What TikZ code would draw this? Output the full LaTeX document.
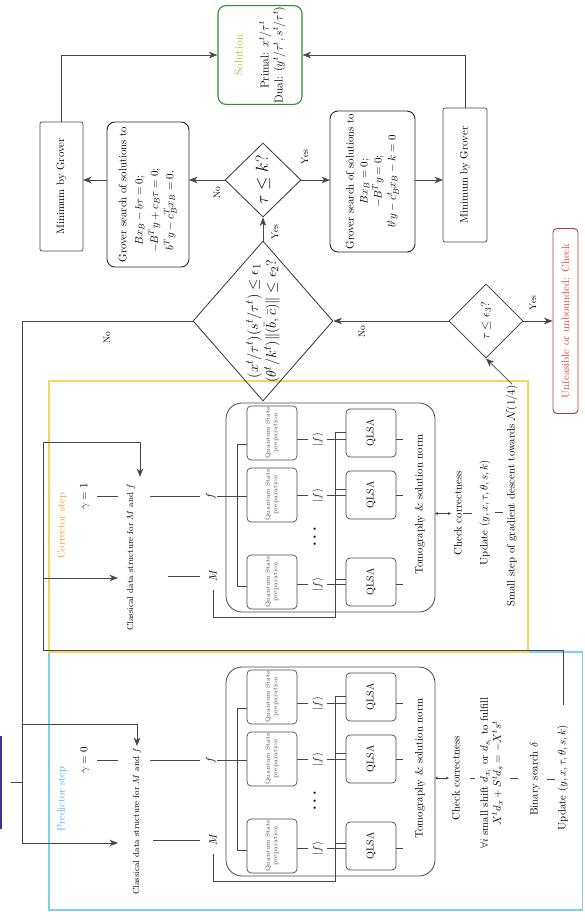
\documentclass[tikz,border=0pt]{standalone}
\usepackage{amsmath,amssymb}
\usetikzlibrary{shapes.geometric,arrows.meta,calc}
\definecolor{wirec}{gray}{0.28}
\definecolor{yelc}{RGB}{246,211,101}
\definecolor{cyac}{RGB}{128,205,236}
\definecolor{orac}{RGB}{245,160,60}
\definecolor{predc}{RGB}{90,180,230}
\definecolor{grnc}{RGB}{50,140,50}
\definecolor{olvc}{RGB}{185,185,60}
\definecolor{redt}{RGB}{235,70,70}
\definecolor{redb}{RGB}{170,60,70}
\definecolor{navc}{RGB}{60,50,140}
\tikzset{
 wire/.style={draw=wirec, line width=0.7pt},
 arr/.style={wire, -{Stealth[length=8.5pt,width=6.5pt,inset=2.5pt]}},
 darr/.style={wire, {Stealth[length=3pt,width=3pt]}-{Stealth[length=3pt,width=3pt]}},
 gbox/.style={draw=wirec, line width=0.7pt, rounded corners=2pt},
 grovbox/.style={draw=black!85, line width=0.9pt, rounded corners=8pt, align=center, inner sep=2pt},
 qsp/.style={draw=wirec, line width=0.7pt, rounded corners=4pt, minimum width=48, minimum height=50, align=center, font=\fontsize{6.3}{7.5}\selectfont, text=black!70},
 qlsa/.style={qsp, font=\fontsize{10}{12}\selectfont, text=black},
 tombox/.style={draw=wirec, line width=0.8pt, rounded corners=16pt, minimum width=209, minimum height=209},
 lab/.style={font=\fontsize{9.5}{11}\selectfont},
 dia/.style={diamond, draw=black!80, line width=0.8pt, inner sep=0pt},
}
% One stage: #1 name prefix, #2 x of the tomography box centre, #3 gamma,
% #4 y of the classical-data text, #5 y where the M wire starts
\newcommand\qstage[5]{%
 \node[tombox] (#1tom) at (#2,254.5) {};
 \node (#1tomt) at ({#2+3},165) {Tomography \& solution norm};
 \node[qsp] (#1Q1) at ({#2+74.5},313) {Quantum State\\preparation};
 \node[qsp] (#1Q2) at ({#2+12.5},313) {Quantum State\\preparation};
 \node[qsp] (#1Q3) at ({#2-74.5},313) {Quantum State\\preparation};
 \node[qlsa] (#1L1) at ({#2+74.5},214) {QLSA};
 \node[qlsa] (#1L2) at ({#2+12.5},214) {QLSA};
 \node[qlsa] (#1L3) at ({#2-74.5},214) {QLSA};
 \node (#1dots) at ({#2-28},270) {\fontsize{14}{14}\selectfont$\boldsymbol{\cdots}$};
 \node (#1gam) at ({#2+11},500) {$\gamma = #3$};
 \node[font=\fontsize{8.8}{10}\selectfont] (#1cls) at ({#2-50},#4) {Classical data structure for $M$ and $f$};
 \node (#1f) at ({#2+11},374) {$f$};
 \node (#1M) at ({#2-68.5},372) {$M$};
 \coordinate (#1gc) at ({#2+11},467);
 \coordinate (#1fc) at ({#2+11},435);
 \coordinate (#1mc) at ({#2-68.5},#5);
 \draw[wire, shorten <=6pt] (#1gam.south) -- (#1gc);
 \draw[wire, shorten >=5pt] (#1fc) -- (#1f.north);
 \draw[wire, shorten >=8pt] (#1mc) -- (#1M.north);
 \coordinate (#1fq) at ({#2+11},338);
 \draw[wire] (#1f.south) -- (#1fq);
 \coordinate (#1fa) at ({#2+63.5},348);
 \coordinate (#1fb) at ({#2-78.5},348);
 \coordinate (#1fa2) at ({#2+63.5},338);
 \coordinate (#1fb2) at ({#2-78.5},338);
 \draw[wire] (#1fa2) -- (#1fa) -- (#1fb) -- (#1fb2);
 \foreach \i/\dx in {1/68,2/12,3/-77}{
   \node (#1k\i) at ({#2+\dx},267) {$|f\rangle$};
   \coordinate (#1ks\i) at ({#2+\dx},288);
   \coordinate (#1kl\i) at ({#2+\dx},239);
   \coordinate (#1ls\i) at ({#2+\dx},189);
   \coordinate (#1e\i) at ({#2+\dx},182);
   \draw[wire, shorten >=3pt] (#1ks\i) -- (#1k\i.north);
   \draw[wire, shorten <=2pt] (#1k\i.south) -- (#1kl\i);
   \draw[wire] (#1ls\i) -- (#1e\i);
 }
 \coordinate (#1ma) at ({#2-109.5},372);
 \coordinate (#1mb) at ({#2-109.5},250);
 \coordinate (#1m1) at ({#2+75.5},250);
 \coordinate (#1m2) at ({#2+18},250);
 \coordinate (#1m3) at ({#2-72},250);
 \coordinate (#1n1) at ({#2+75.5},239);
 \coordinate (#1n2) at ({#2+18},239);
 \coordinate (#1n3) at ({#2-72},239);
 \draw[wire, shorten <=7pt] (#1M.west) -- (#1ma) -- (#1mb) -- (#1m1) -- (#1n1);
 \draw[wire] (#1m2) -- (#1n2);
 \draw[wire] (#1m3) -- (#1n3);
}
\begin{document}
% drawn in landscape coordinates, turned by 90 degrees
\begin{tikzpicture}[x=1pt,y=1pt,rotate=90,transform shape,
  every node/.style={font=\fontsize{10.8}{13}\selectfont, inner sep=1pt}]
\useasboundingbox (0,0) rectangle (922,585);
\fill[white] (0,0) rectangle (922,585);

% stage frames
\draw[cyac, line width=1.1pt] (12,2.5) rectangle (270,536);
\draw[yelc, line width=1.1pt] (270,57) rectangle (541,536);
\node[text=orac, anchor=west, font=\fontsize{10.5}{12}\selectfont] (corrlab) at (362,523) {Corrector step};
\node[text=predc, anchor=west, font=\fontsize{10.5}{12}\selectfont] (predlab) at (89,523) {Predictor step};

\qstage{C}{414.5}{1}{454}{417}
\qstage{P}{150.5}{0}{448}{432}

% corrector lower chain
\node (checkC) at (408.5,127) {Check correctness};
\node (updC) at (409.5,100) {Update $(y,x,\tau,\theta,s,k)$};
\node (smallC) at (426,73) {Small step of gradient descent towards $\mathcal{N}(1/4)$};
\coordinate (cT) at (408.5,150);
\coordinate (cU) at (408.5,113);
\coordinate (cV) at (409.5,82);
\draw[darr, shorten >=2pt] (cT) -- (checkC.north);
\draw[wire] (checkC.south) -- (cU);
\draw[wire, shorten <=3pt] (updC.south) -- (cV);

% predictor lower chain
\node (checkP) at (144,129) {Check correctness};
\node[align=center] (forallP) at (149,93.5) {$\forall i$ small shift $d_{x_i}$ or $d_{s_i}$ to fulfill\\$X^td_x+S^td_s=-X^ts^t$};
\node (binP) at (143,50) {Binary search $\delta$};
\node (updP) at (144.5,22) {Update $(y,x,\tau,\theta,s,k)$};
\coordinate (qT) at (144,150);
\coordinate (qU) at (144,110);
\coordinate (qV) at (144,75);
\coordinate (qW) at (144,67);
\coordinate (qX) at (143,30);
\draw[darr, shorten >=2pt] (qT) -- (checkP.north);
\draw[wire, shorten <=9pt] (checkP.south) -- (qU);
\draw[wire] (qV) -- (qW);
\draw[wire, shorten <=6pt] (binP.south) -- (qX);

% decisions
\node[dia, minimum width=160, minimum height=140] (dbig) at (601,322) {};
\node[align=center, font=\fontsize{15}{18}\selectfont] (dbigt) at (dbig) {$(x^t/\tau^t)(s^t/\tau^t) \le \epsilon_1$\\$(\theta^t/k^t)\|(\bar b,\bar c)\| \le \epsilon_2?$};
\node[dia, minimum width=74, minimum height=76] (dk) at (742,322) {};
\node[font=\fontsize{16}{18}\selectfont] (dkt) at (dk) {$\tau \le k?$};
\node[dia, minimum width=74, minimum height=74] (de3) at (601,99) {};
\node[font=\fontsize{13}{15}\selectfont] (de3t) at (de3) {$\tau \le \epsilon_3?$};

% Grover boxes
\node[gbox, minimum width=129, minimum height=43] (minL) at (735.5,523.5) {Minimum by Grover};
\node[grovbox, minimum width=145, minimum height=82] (grovL) at (727.5,437) {Grover search of solutions to\\[6pt]\hspace*{-32pt}$\begin{array}{c}Bx_B-b\tau=0;\\[2pt]-B^Ty+c_B\tau=0;\\[2pt]b^Ty-c_B^Tx_B=0.\end{array}$};
\node[grovbox, minimum width=141, minimum height=85] (grovR) at (740.5,212.5) {Grover search of solutions to\\[1pt]$Bx_B=0;$\\[1pt]$-B^Ty=0;$\\[1pt]$b^ty-c_B^tx_B-k=0$};
\node[gbox, minimum width=134, minimum height=44] (minR) at (747,120) {Minimum by Grover};

\node[draw=grnc, line width=1.1pt, rounded corners=8pt, minimum width=98, minimum height=84, align=center, font=\fontsize{11.5}{14}\selectfont] (sol) at (867,325) {\textcolor{olvc}{Solution}\\[12pt]Primal: $x^t/\tau^t$\\Dual: $(y^t/\tau^t,s^t/\tau^t)$};
\node[draw=redb, line width=0.9pt, rounded corners=4pt, minimum width=185, minimum height=25, text=redt] (unf) at (601,19.5) {Unfeasible or unbounded: Check};

% start (mostly outside the page)
\node[draw=navc, line width=1.5pt, minimum width=91, minimum height=50] (start) at (139.5,609) {};

% connectors around the decisions
\coordinate (a1) at (742,396);
\coordinate (a2) at (742,478);
\coordinate (a3) at (742,502);
\coordinate (a4) at (742,255);
\coordinate (a5) at (742,170);
\coordinate (a6) at (742,142);
\coordinate (a7) at (867,523.5);
\coordinate (a8) at (867,120);
\draw[arr] (dbig.east) -- (dk.west);
\node[lab] (y1) at (690,310) {Yes};
\draw[arr] (dk.north) -- (a1);
\node[lab] (n1) at (729,368) {No};
\draw[arr] (a2) -- (a3);
\draw[arr] (dk.south) -- (a4);
\node[lab] (y2) at (765,280) {Yes};
\draw[arr] (a5) -- (a6);
\draw[arr] (minL.east) -- (a7) -- (sol.north);
\draw[arr] (minR.east) -- (a8) -- (sol.south);
\draw[arr] (de3.north) -- (dbig.south);
\node[lab] (n2) at (590,223) {No};
\draw[arr] (de3.south) -- (unf.north);
\node[lab] (y3) at (619,52) {Yes};
\draw[arr] (smallC.east) -- (de3.west);

% loop back when the test fails
\coordinate (nA) at (601,563);
\coordinate (nB) at (79,563);
\coordinate (nC) at (198,563);
\coordinate (nD) at (79,467);
\coordinate (nE) at (198,448);
\coordinate (nS) at (139.5,563);
\draw[wire] (dbig.north) -- (nA) -- (nB);
\node[lab] (n3) at (584,478) {No};
\draw[arr] (nB) -- (nD);
\draw[arr, shorten >=1pt] (nC) -- (nE) -- (Pcls.east);
\draw[wire, shorten <=9pt] (start.south) -- (nS);

% predictor output into corrector
\coordinate (pA) at (272,22);
\coordinate (pB) at (272,542);
\coordinate (pC) at (480,542);
\coordinate (pD) at (344,542);
\coordinate (pE) at (480,445);
\coordinate (pF) at (445,445);
\coordinate (pG) at (344,467);
\draw[wire, shorten <=19pt] (updP.east) -- (pA) -- (pB) -- (pC);
\draw[arr] (pC) -- (pE) -- (pF);
\draw[arr] (pD) -- (pG);
\end{tikzpicture}
\end{document}
